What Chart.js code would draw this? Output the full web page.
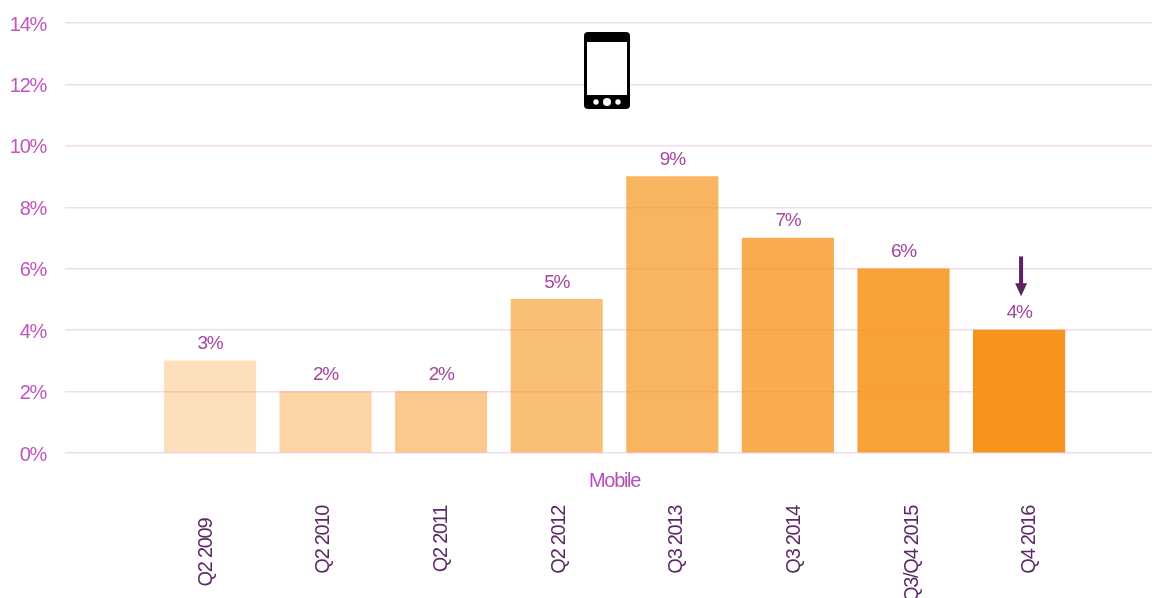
<!DOCTYPE html>
<html>
<head>
<meta charset="utf-8">
<style>html,body{margin:0;padding:0;background:#fff;overflow:hidden}canvas{display:block}</style>
<script src="https://cdn.jsdelivr.net/npm/chart.js@4"></script>
</head>
<body>
<canvas id="chart" width="1152" height="598"></canvas>
<script>
var categories = ['Q2 2009', 'Q2 2010', 'Q2 2011', 'Q2 2012', 'Q3 2013', 'Q3 2014', 'Q3/Q4 2015', 'Q4 2016'];
var values = [3, 2, 2, 5, 9, 7, 6, 4];
var barAlphas = [0.3, 0.4, 0.5, 0.6, 0.7, 0.78, 0.88, 1];
var groupLabel = 'Mobile';
var arrowFrom = 6.4, arrowTo = 5.1;

var font = '"Liberation Sans", Arial, sans-serif';

// value labels, group label, arrow and phone icon
var extras = {
  id: 'extras',
  beforeDraw: function(chart) {
    // no narrow font is installed, so tighten the tracking to get the same text widths
    chart.ctx.letterSpacing = '-1.3px';
  },
  afterDatasetsDraw: function(chart) {
    var c = chart.ctx, xs = chart.scales.x, ys = chart.scales.y;
    c.save();
    c.textAlign = 'center';
    c.textBaseline = 'middle';
    c.font = '19px ' + font;
    c.fillStyle = '#a3479f';
    chart.getDatasetMeta(0).data.forEach(function(bar, i) {
      c.fillText(values[i] + '%', bar.x, bar.y - 17);
    });

    c.font = '20px ' + font;
    c.fillStyle = '#b550b5';
    c.fillText(groupLabel, xs.getPixelForValue(3.5), 481);

    // arrow over the last bar
    var ax = xs.getPixelForValue(7) + 2;
    var y1 = ys.getPixelForValue(arrowFrom), y2 = ys.getPixelForValue(arrowTo);
    c.fillStyle = '#5c2263';
    c.fillRect(ax - 2, y1, 4, y2 - y1 - 12);
    c.beginPath();
    c.moveTo(ax - 6, y2 - 13);
    c.lineTo(ax + 6, y2 - 13);
    c.lineTo(ax, y2);
    c.closePath();
    c.fill();

    // phone icon
    c.fillStyle = '#000';
    c.beginPath();
    c.roundRect(584, 32, 46, 77, 4);
    c.fill();
    c.fillStyle = '#fff';
    c.fillRect(587, 42, 40, 53);
    c.beginPath();
    c.arc(607, 102, 4, 0, Math.PI * 2);
    c.fill();
    c.beginPath();
    c.arc(596, 102, 2.7, 0, Math.PI * 2);
    c.fill();
    c.beginPath();
    c.arc(618, 102, 2.7, 0, Math.PI * 2);
    c.fill();
    c.restore();
  }
};

new Chart(document.getElementById('chart'), {
  type: 'bar',
  data: {
    datasets: [{
      data: values.map(function(v, i) { return { x: i, y: v }; }),
      backgroundColor: barAlphas.map(function(a) { return 'rgba(247,148,29,' + a + ')'; }),
      barThickness: 91.5,
      borderWidth: 0
    }]
  },
  options: {
    responsive: false,
    animation: false,
    layout: { padding: { top: 17, left: 0, right: 0, bottom: 0 } },
    plugins: { legend: { display: false }, tooltip: { enabled: false } },
    scales: {
      x: { type: 'linear', display: false, offset: false, min: -1.254, max: 8.15 },
      // category labels run on a slightly wider spacing than the bars
      labels: {
        type: 'linear', position: 'bottom', offset: false, min: -1.198, max: 8.037,
        grid: { display: false, drawTicks: false },
        border: { display: false },
        afterBuildTicks: function(axis) {
          axis.ticks = categories.map(function(c, i) { return { value: i }; });
        },
        afterFit: function(axis) { axis.height = 145; },
        ticks: {
          autoSkip: false, minRotation: 90, maxRotation: 90, padding: 53,
          color: '#5c2a66',
          font: { family: font, size: 20 },
          callback: function(v) { return v === 0 ? categories[v] + '   ' : categories[v]; }
        }
      },
      y: {
        min: 0, max: 14,
        afterFit: function(axis) { axis.width = 65; },
        border: { display: false },
        grid: { color: '#f1d9f1', lineWidth: 1.5, drawTicks: false },
        ticks: {
          stepSize: 2, padding: 19,
          color: '#c055bd',
          font: { family: font, size: 20, lineHeight: '4px' },
          // empty first line nudges the text a little below the grid line
          callback: function(v) { return ['', v + '%']; }
        }
      }
    }
  },
  plugins: [extras]
});
</script>
</body>
</html>
